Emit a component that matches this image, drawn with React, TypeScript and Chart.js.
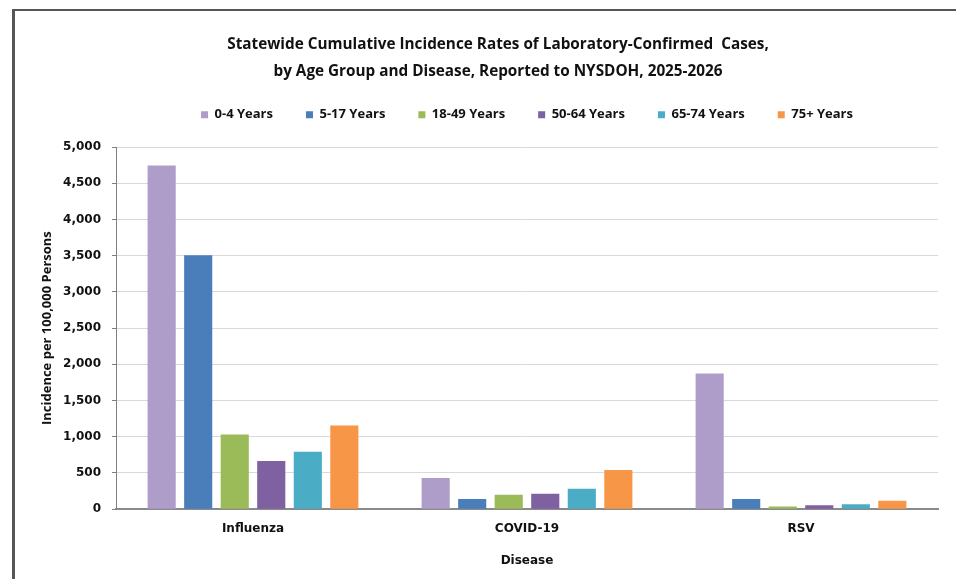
import { useEffect, useRef } from "react";
import { Chart, registerables } from "chart.js";

Chart.register(...registerables);

const categories = ["Influenza", "COVID-19", "RSV"];
const ageGroups = ["0-4 Years", "5-17 Years", "18-49 Years", "50-64 Years", "65-74 Years", "75+ Years"];
const age0to4 = [4745, 432, 1875];
const age5to17 = [3505, 140, 140];
const age18to49 = [1030, 200, 38];
const age50to64 = [665, 213, 56];
const age65to74 = [792, 283, 70];
const age75plus = [1155, 540, 116];
const seriesValues = [age0to4, age5to17, age18to49, age50to64, age65to74, age75plus];
const seriesColors = ["#AE9DC9", "#4A7EBB", "#9BBB59", "#7F61A1", "#4BACC6", "#F79646"];
const titleLines = [
  "Statewide Cumulative Incidence Rates of Laboratory-Confirmed  Cases,",
  "by Age Group and Disease, Reported to NYSDOH, 2025-2026",
];
const yAxisTitle = "Incidence per 100,000 Persons";
const xAxisTitle = "Disease";
const yMin = 0;
const yMax = 5000;
const yStep = 500;

const calibriLike = "'Open Sans', Lato, sans-serif";
const tahomaLike = "'DejaVu Sans', Verdana, sans-serif";

export default function App() {
  const canvasRef = useRef<HTMLCanvasElement | null>(null);

  useEffect(() => {
    const canvas = canvasRef.current;
    if (!canvas) return;
    const chart = new Chart(canvas, {
      type: "bar",
      data: {
        labels: categories,
        datasets: ageGroups.map((name, i) => ({
          label: name,
          data: seriesValues[i],
          backgroundColor: seriesColors[i],
          borderWidth: 0,
          categoryPercentage: 0.8,
          barPercentage: 0.77,
        })),
      },
      options: {
        responsive: false,
        animation: false,
        layout: { padding: { top: 20, left: 58, right: 18, bottom: 0 } },
        plugins: {
          tooltip: { enabled: false },
          title: {
            display: true,
            text: titleLines,
            color: "#111",
            font: { family: calibriLike, size: 15.3, weight: "bold", lineHeight: 27 / 15.3 },
            padding: { top: 11.5, bottom: -10.25 },
          },
          legend: {
            display: true,
            position: "top",
            fullSize: false,
            labels: {
              boxWidth: 7,
              boxHeight: 7,
              padding: 33,
              color: "#111",
              font: { family: calibriLike, size: 13, weight: "bold" },
            },
          },
          subtitle: {
            display: true,
            text: "",
            weight: 500,
            font: { size: 1, lineHeight: 1 },
            padding: { top: 0, bottom: 14.75 },
          } as any,
        },
        scales: {
          x: {
            grid: { display: false, drawTicks: false },
            border: { display: true, color: "#8a8a8a", width: 2 },
            ticks: {
              color: "#111",
              padding: 12,
              font: { family: tahomaLike, size: 12, weight: "bold" },
            },
            title: {
              display: true,
              text: xAxisTitle,
              color: "#111",
              font: { family: tahomaLike, size: 12, weight: "bold" },
              padding: { top: 6.5, bottom: 10.5 },
            },
          },
          y: {
            min: yMin,
            max: yMax,
            afterFit: (scale: any) => {
              scale.width = 58;
            },
            grid: { color: "#D9D9D9", tickColor: "#7f7f7f", tickLength: 4, lineWidth: 1 },
            border: { display: true, color: "#7f7f7f", width: 1 },
            ticks: {
              stepSize: yStep,
              padding: 11,
              color: "#111",
              font: { family: tahomaLike, size: 12, weight: "bold" },
              callback: (v: any) => Number(v).toLocaleString("en-US"),
            },
            title: {
              display: true,
              text: yAxisTitle,
              color: "#111",
              font: { family: calibriLike, size: 13, weight: "bold" },
              padding: { top: -18.8, bottom: 0 },
            },
          },
        },
      },
    });
    return () => chart.destroy();
  }, []);

  return (
    <div
      style={{
        position: "absolute",
        left: 0,
        top: 0,
        width: 956,
        height: 579,
        overflow: "hidden",
        background: "#fff",
      }}
    >
      <div
        style={{
          position: "absolute",
          left: 12,
          top: 9,
          width: 1000,
          height: 700,
          borderLeft: "3px solid #565656",
          borderTop: "2px solid #565656",
        }}
      />
      <canvas
        ref={canvasRef}
        width={956}
        height={579}
        style={{ position: "absolute", left: 0, top: 0, display: "block" }}
      />
    </div>
  );
}
